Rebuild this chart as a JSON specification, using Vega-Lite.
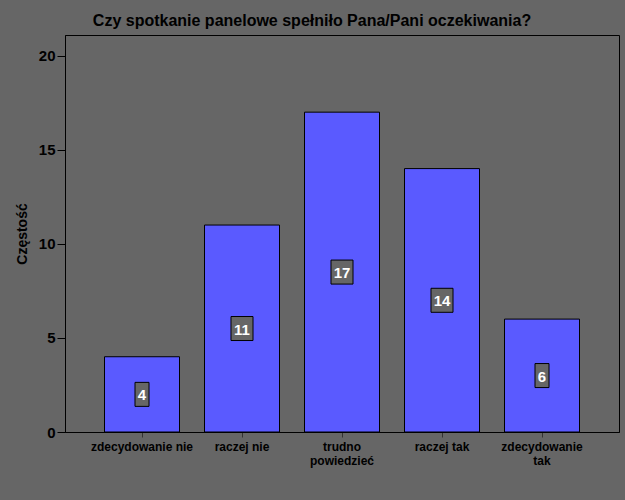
{
  "$schema": "https://vega.github.io/schema/vega-lite/v6.json",
  "width": 554,
  "height": 397,
  "autosize": "none",
  "padding": {"left": 65, "top": 35, "right": 6, "bottom": 68},
  "background": "#666666",
  "config": {
    "view": {"stroke": "#000000", "strokeWidth": 1, "fill": "#666666"},
    "font": "Liberation Sans"
  },
  "title": {
    "text": "Czy spotkanie panelowe spełniło Pana/Pani oczekiwania?",
    "fontSize": 16,
    "fontWeight": "bold",
    "color": "#000000",
    "dx": -30,
    "offset": 6
  },
  "data": {
    "values": [
      {"odp": "zdecydowanie nie", "n": 4},
      {"odp": "raczej nie", "n": 11},
      {"odp": "trudno powiedzieć", "n": 17},
      {"odp": "raczej tak", "n": 14},
      {"odp": "zdecydowanie tak", "n": 6}
    ]
  },
  "transform": [
    {"calculate": "datum.n / 2", "as": "half"},
    {"calculate": "length(toString(datum.n)) > 1 ? 22 : 14", "as": "boxw"}
  ],
  "encoding": {
    "x": {
      "field": "odp",
      "type": "nominal",
      "sort": null,
      "scale": {"paddingInner": 0.25, "paddingOuter": 0.395},
      "axis": {
        "title": null,
        "labelAngle": 0,
        "labelFont": "Liberation Sans",
        "labelFontSize": 12,
        "labelFontWeight": "bold",
        "labelColor": "#000000",
        "labelPadding": 4,
        "labelLineHeight": 14,
        "labelExpr": "datum.label == 'trudno powiedzieć' ? ['trudno', 'powiedzieć'] : datum.label == 'zdecydowanie tak' ? ['zdecydowanie', 'tak'] : datum.label",
        "tickColor": "#333333",
        "tickSize": 5,
        "domainColor": "#000000",
        "domainWidth": 1
      }
    }
  },
  "layer": [
    {
      "mark": {"type": "bar", "fill": "#5a5aff", "stroke": "#000000", "strokeWidth": 1},
      "encoding": {
        "y": {
          "field": "n",
          "type": "quantitative",
          "scale": {"domain": [0, 21.1], "nice": false},
          "axis": {
            "title": "Częstość",
            "titleFont": "Liberation Sans",
            "titleFontSize": 14,
            "titleFontWeight": "bold",
            "titleColor": "#000000",
            "titlePadding": 9,
            "values": [0, 5, 10, 15, 20],
            "labelFont": "Liberation Sans",
            "labelFontSize": 15,
            "labelFontWeight": "bold",
            "labelColor": "#000000",
            "labelPadding": 2,
            "tickSize": 8,
            "tickColor": "#000000",
            "domainColor": "#000000",
            "grid": false
          }
        }
      }
    },
    {
      "mark": {"type": "bar", "fill": "#666666", "stroke": "#000000", "strokeWidth": 1, "yOffset": -12, "y2Offset": 12},
      "encoding": {
        "y": {"field": "half", "type": "quantitative"},
        "y2": {"field": "half"},
        "size": {"field": "boxw", "type": "quantitative", "scale": null, "legend": null}
      }
    },
    {
      "mark": {"type": "text", "color": "#ffffff", "fontSize": 15, "fontWeight": "bold", "font": "Liberation Sans", "baseline": "middle", "dy": 1},
      "encoding": {
        "y": {"field": "half", "type": "quantitative"},
        "text": {"field": "n", "type": "quantitative"}
      }
    }
  ]
}
